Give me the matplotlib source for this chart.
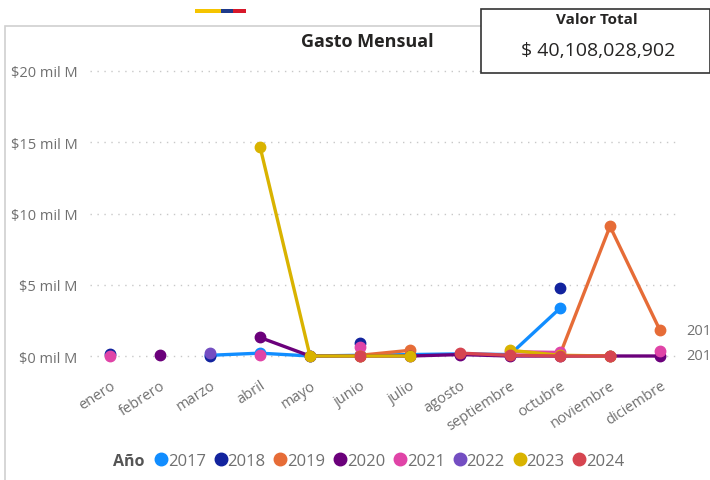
import numpy as np
import matplotlib
matplotlib.use("Agg")
import matplotlib.pyplot as plt
from matplotlib.patches import Rectangle
from matplotlib.lines import Line2D
from matplotlib.transforms import ScaledTranslation

plt.rcParams["font.family"] = ["Open Sans", "DejaVu Sans"]

W, H = 710, 481
nan = np.nan

meses = ["enero", "febrero", "marzo", "abril", "mayo", "junio", "julio",
         "agosto", "septiembre", "octubre", "noviembre", "diciembre"]

# gasto mensual en miles de millones (mil M)
anios = ["2017", "2018", "2019", "2020", "2021", "2022", "2023", "2024"]
g2017 = [nan, nan, 0.05, 0.2, 0.0, 0.05, 0.1, 0.15, 0.1, 3.35, nan, nan]
g2018 = [0.15, nan, 0.0, nan, nan, 0.9, nan, nan, nan, 4.8, nan, nan]
g2019 = [nan, nan, nan, nan, nan, 0.05, 0.4, nan, nan, 0.1, 9.1, 1.8]
g2020 = [nan, 0.05, nan, 1.3, 0.0, 0.0, 0.0, 0.1, 0.0, 0.0, 0.0, 0.0]
g2021 = [0.0, nan, nan, 0.05, nan, 0.6, nan, nan, 0.3, 0.25, nan, 0.35]
g2022 = [nan, nan, 0.2, nan, nan, nan, nan, nan, nan, nan, nan, nan]
g2023 = [nan, nan, nan, 14.7, 0.0, 0.0, 0.0, nan, 0.4, 0.05, 0.0, nan]
g2024 = [nan, nan, nan, nan, nan, 0.0, nan, 0.2, 0.05, 0.0, 0.0, nan]
series = [g2017, g2018, g2019, g2020, g2021, g2022, g2023, g2024]
colores = ["#118DFF", "#12239E", "#E66C37", "#6B007B",
           "#E044A7", "#744EC2", "#D9B300", "#D64550"]

yticks = [0, 5, 10, 15, 20]
ytick_labels = ["$0 mil M", "$5 mil M", "$10 mil M", "$15 mil M", "$20 mil M"]
etiquetas_fin = ["201", "201"]
valor_total = "$ 40,108,028,902"

gris = "#707070"

fig = plt.figure(figsize=(W / 100, H / 100), dpi=100)

# ejes: x -0.4..11.4 -> 90..680 px ; y -1.5..22
y0_px, y20_px = 357, 72
ppu = (y0_px - y20_px) / 20.0
ylo, yhi = -1.5, 22.0
bot_px = y0_px - ylo * ppu
top_px = y0_px - yhi * ppu
ax = fig.add_axes([90 / W, 1 - bot_px / H, 590 / W, (bot_px - top_px) / H])
ax.set_xlim(-0.4, 11.4)
ax.set_ylim(ylo, yhi)

x = np.arange(len(meses))
for vals, col in zip(series, colores):
    ax.plot(x, vals, color=col, lw=2.4, marker="o", ms=7.5,
            solid_capstyle="round", zorder=3)

ax.set_yticks(yticks)
ax.set_yticklabels(ytick_labels, color=gris, fontsize=10.5)
ax.set_xticks(x)
ax.set_xticklabels(meses, color=gris, fontsize=10.5, rotation=33,
                   ha="right", rotation_mode="anchor")
desplaza = ScaledTranslation(-8 / 100, 0, fig.dpi_scale_trans)
for lab in ax.get_xticklabels():
    lab.set_transform(lab.get_transform() + desplaza)
ax.tick_params(axis="y", length=0, pad=9)
ax.tick_params(axis="x", length=0, pad=0)
ax.grid(axis="y", linestyle=(0, (1, 4)), color="#c8c8c8", lw=1)
ax.set_axisbelow(True)
for s in ax.spines.values():
    s.set_visible(False)
ax.patch.set_alpha(0)

# etiquetas al final de las series (recortadas)
ax.text(11.52, g2019[11], etiquetas_fin[0], color=gris, fontsize=10.5,
        va="center", ha="left", clip_on=False)
ax.text(11.52, g2020[11], etiquetas_fin[1], color=gris, fontsize=10.5,
        va="center", ha="left", clip_on=False)

# marco del panel
fig.patches.append(Rectangle((5 / W, -0.1), 1.0, 1 - 27 / H + 0.1,
                             transform=fig.transFigure, fill=False,
                             edgecolor="#d0d0d0", lw=1.2, zorder=0))

fig.text(367 / W, 1 - 42 / H, "Gasto Mensual", fontsize=13,
         fontweight="bold", color="#252423", ha="center", va="center")

# tarjeta de valor total
fig.patches.append(Rectangle((481 / W, 1 - 74 / H), 229 / W, 64 / H,
                             transform=fig.transFigure, facecolor="white",
                             edgecolor="#333333", lw=1.2, zorder=5))
fig.text(597 / W, 1 - 20 / H, "Valor Total", fontsize=11,
         fontweight="bold", color="#252423", ha="center", va="center", zorder=6)
fig.text(598 / W, 1 - 51 / H, valor_total, fontsize=14,
         color="#252423", ha="center", va="center", zorder=6)

# franja decorativa
for xa, wa, c in [(195, 26, "#F5C400"), (221, 12, "#1F3A8A"), (233, 13, "#D7182A")]:
    fig.patches.append(Rectangle((xa / W, 1 - 14 / H), wa / W, 4 / H,
                                 transform=fig.transFigure, color=c, lw=0))

# leyenda
fig.text(113 / W, 1 - 462 / H, "Año", fontsize=11.5, fontweight="bold",
         color="#555555", ha="left", va="center")
handles = [Line2D([], [], ls="", marker="o", ms=9, color=c) for c in colores]
leg = fig.legend(handles, anios, loc="center left", ncol=8,
                 bbox_to_anchor=(156 / W, 1 - 462 / H), frameon=False,
                 fontsize=12, handlelength=0.6, handletextpad=0.1,
                 columnspacing=0.6, borderaxespad=0, borderpad=0)
for t in leg.get_texts():
    t.set_color(gris)

fig.savefig("out.png", dpi=100)
